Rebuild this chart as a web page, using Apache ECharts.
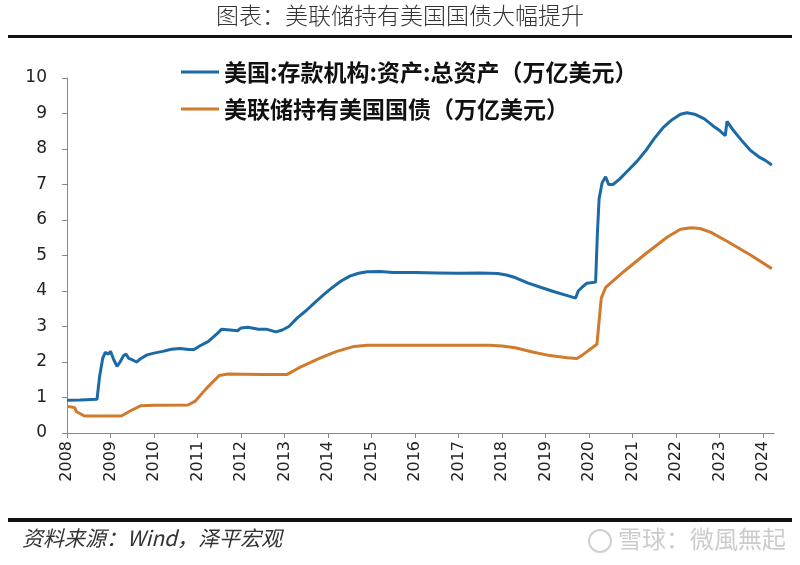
<!DOCTYPE html>
<html>
<head>
<meta charset="utf-8">
<script src="https://cdn.jsdelivr.net/npm/echarts@6/dist/echarts.min.js"></script>
<style>
  html, body { margin: 0; padding: 0; background: #ffffff; }
  #chart { width: 800px; height: 565px; }
</style>
</head>
<body>
<div id="chart"></div>
<script>
// x positions are fractional years
const blueDates = [2008.00, 2008.30, 2008.69, 2008.75, 2008.82, 2008.88, 2008.95, 2009.00, 2009.08, 2009.15,
  2009.22, 2009.30, 2009.36, 2009.42, 2009.52, 2009.60, 2009.70, 2009.84, 2010.00, 2010.20,
  2010.40, 2010.60, 2010.80, 2010.92, 2011.05, 2011.25, 2011.45, 2011.55, 2011.75, 2011.92,
  2012.00, 2012.16, 2012.40, 2012.60, 2012.80, 2012.95, 2013.10, 2013.30, 2013.50, 2013.70,
  2013.90, 2014.10, 2014.30, 2014.50, 2014.70, 2014.90, 2015.20, 2015.50, 2016.00, 2016.50,
  2017.00, 2017.50, 2017.90, 2018.10, 2018.30, 2018.60, 2018.90, 2019.20, 2019.50, 2019.69,
  2019.75, 2019.85, 2019.95, 2020.15, 2020.19, 2020.23, 2020.30, 2020.38, 2020.45, 2020.55,
  2020.70, 2020.90, 2021.10, 2021.30, 2021.50, 2021.70, 2021.90, 2022.10, 2022.25, 2022.45,
  2022.65, 2022.85, 2023.00, 2023.13, 2023.17, 2023.30, 2023.50, 2023.70, 2023.90, 2024.05, 2024.20]
const blueValues = [0.92, 0.93, 0.95, 1.60, 2.10, 2.27, 2.22, 2.30, 2.05, 1.88,
  2.00, 2.18, 2.22, 2.10, 2.05, 2.00, 2.10, 2.20, 2.25, 2.30,
  2.36, 2.38, 2.35, 2.35, 2.45, 2.58, 2.80, 2.92, 2.90, 2.88,
  2.96, 2.98, 2.92, 2.92, 2.85, 2.90, 3.00, 3.25, 3.45, 3.68,
  3.90, 4.10, 4.28, 4.42, 4.50, 4.54, 4.55, 4.52, 4.52, 4.51,
  4.50, 4.51, 4.49, 4.45, 4.38, 4.22, 4.10, 3.98, 3.87, 3.80,
  4.00, 4.12, 4.22, 4.25, 5.60, 6.60, 7.05, 7.22, 7.00, 7.00,
  7.15, 7.40, 7.65, 7.95, 8.30, 8.60, 8.82, 8.98, 9.02, 8.97,
  8.85, 8.65, 8.52, 8.38, 8.78, 8.55, 8.25, 7.97, 7.78, 7.68, 7.55]

const orangeDates = [2008.00, 2008.17, 2008.22, 2008.40, 2009.00, 2009.25, 2009.45, 2009.70, 2010.00, 2010.78,
  2010.95, 2011.20, 2011.50, 2011.70, 2012.50, 2013.06, 2013.40, 2013.80, 2014.20, 2014.60,
  2014.90, 2017.70, 2018.00, 2018.30, 2018.70, 2019.10, 2019.50, 2019.72, 2019.85, 2020.18,
  2020.28, 2020.38, 2020.80, 2021.30, 2021.80, 2022.10, 2022.35, 2022.55, 2022.80, 2023.20,
  2023.70, 2024.20]
const orangeValues = [0.75, 0.72, 0.60, 0.48, 0.48, 0.48, 0.62, 0.77, 0.78, 0.79,
  0.90, 1.25, 1.62, 1.66, 1.65, 1.65, 1.88, 2.10, 2.30, 2.44,
  2.47, 2.47, 2.45, 2.40, 2.28, 2.18, 2.12, 2.10, 2.20, 2.50,
  3.80, 4.10, 4.55, 5.05, 5.52, 5.74, 5.78, 5.76, 5.65, 5.38,
  5.02, 4.63]

const seriesNames = ['美国:存款机构:资产:总资产（万亿美元）', '美联储持有美国国债（万亿美元）']
const titleText = '图表：美联储持有美国国债大幅提升'
const sourceText = '资料来源：Wind，泽平宏观'
const watermarkText = '雪球：微風無起'

const pairs = (xs, ys) => xs.map((x, i) => [x, ys[i]])

const chart = echarts.init(document.getElementById('chart'))
const option = {
  backgroundColor: '#ffffff',
  animation: false,
  grid: { left: 67, right: 26, top: 78, bottom: 132 },
  legend: {
    orient: 'vertical',
    left: 176,
    top: 54,
    itemWidth: 38,
    itemHeight: 3,
    itemGap: 11,
    icon: 'rect',
    textStyle: { fontFamily: 'Noto Sans CJK SC', fontSize: 23, lineHeight: 26, fontWeight: 'bold', color: '#111' },
    data: seriesNames
  },
  xAxis: {
    type: 'value',
    min: 2008,
    max: 2024.25,
    interval: 1,
    splitLine: { show: false },
    axisLine: { lineStyle: { color: '#888', width: 1 } },
    axisTick: { show: true, length: 5, lineStyle: { color: '#888' } },
    axisLabel: {
      rotate: 90,
      showMaxLabel: false,
      margin: 8,
      fontFamily: 'DejaVu Sans',
      fontSize: 16,
      color: '#222',
      formatter: v => String(Math.round(v))
    }
  },
  yAxis: {
    type: 'value',
    min: 0,
    max: 10,
    interval: 1,
    splitLine: { show: false },
    axisLine: { show: true, lineStyle: { color: '#888', width: 1 } },
    axisTick: { show: true, length: 5, lineStyle: { color: '#888' } },
    axisLabel: { margin: 20, fontFamily: 'DejaVu Sans', fontSize: 17, color: '#222' }
  },
  series: [
    {
      name: seriesNames[0],
      type: 'line',
      data: pairs(blueDates, blueValues),
      showSymbol: false,
      lineStyle: { color: '#1c6aa5', width: 3 },
      itemStyle: { color: '#1c6aa5' }
    },
    {
      name: seriesNames[1],
      type: 'line',
      data: pairs(orangeDates, orangeValues),
      showSymbol: false,
      lineStyle: { color: '#cf7a2c', width: 3 },
      itemStyle: { color: '#cf7a2c' }
    }
  ],
  graphic: [
    {
      type: 'text', left: 'center', top: 4,
      style: { text: titleText, font: '300 23px "Noto Sans CJK SC"', fill: '#333' }
    },
    { type: 'rect', shape: { x: 8, y: 35, width: 784, height: 3 }, style: { fill: '#111' } },
    { type: 'rect', shape: { x: 8, y: 518, width: 784, height: 4 }, style: { fill: '#111' } },
    {
      type: 'text', left: 22, top: 528,
      style: { text: sourceText, font: 'italic 21px "Noto Sans CJK SC"', fill: '#333' }
    },
    {
      type: 'circle', shape: { cx: 600, cy: 541, r: 11 },
      style: { fill: 'none', stroke: '#cfcfcf', lineWidth: 2 }
    },
    {
      type: 'text', right: 14, top: 527,
      style: { text: watermarkText, font: '24px "Noto Sans CJK SC"', fill: '#cccccc' }
    }
  ]
}
chart.setOption(option)
</script>
</body>
</html>
